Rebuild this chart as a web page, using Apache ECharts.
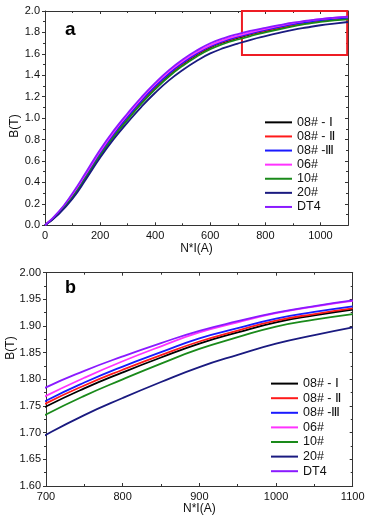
<!DOCTYPE html>
<html>
<head>
<meta charset="utf-8">
<script src="https://cdn.jsdelivr.net/npm/echarts@6/dist/echarts.min.js"></script>
<style>html,body{margin:0;padding:0;background:#fff}#c{width:366px;height:519px}</style>
</head>
<body>
<div id="c"></div>
<script>
// ---- data ----
const current = [0,50,100,150,200,250,300,350,400,450,500,550,600,650,700,750,800,850,900,950,1000,1050,1100];
const seriesNames = ['08# - Ⅰ','08# - Ⅱ','08# -Ⅲ','06#','10#','20#','DT4'];
const b08_1 = [0,0.115,0.27,0.46,0.66,0.84,1.00,1.15,1.285,1.405,1.505,1.59,1.66,1.71,1.749,1.783,1.813,1.841,1.867,1.888,1.907,1.920,1.931];
const b08_2 = [0,0.117,0.275,0.466,0.666,0.846,1.006,1.156,1.291,1.411,1.511,1.596,1.666,1.716,1.755,1.7885,1.818,1.8455,1.871,1.8915,1.910,1.9225,1.933];
const b08_3 = [0,0.119,0.28,0.472,0.673,0.853,1.013,1.163,1.298,1.417,1.517,1.602,1.671,1.721,1.760,1.794,1.824,1.851,1.877,1.896,1.914,1.9265,1.937];
const b06 = [0,0.123,0.29,0.488,0.69,0.872,1.033,1.183,1.317,1.435,1.532,1.615,1.682,1.731,1.769,1.803,1.834,1.862,1.888,1.907,1.924,1.9365,1.947];
const b10 = [0,0.112,0.262,0.45,0.648,0.827,0.986,1.135,1.269,1.389,1.489,1.574,1.644,1.6945,1.734,1.769,1.800,1.8295,1.857,1.879,1.899,1.912,1.9225];
const b20 = [0,0.105,0.248,0.435,0.63,0.805,0.96,1.106,1.237,1.353,1.45,1.534,1.604,1.655,1.696,1.733,1.765,1.795,1.823,1.846,1.867,1.883,1.8975];
const bDT4 = [0,0.127,0.30,0.50,0.705,0.886,1.046,1.195,1.329,1.448,1.547,1.63,1.699,1.747,1.785,1.816,1.843,1.868,1.891,1.909,1.925,1.9375,1.948];
const seriesValues = [b08_1,b08_2,b08_3,b06,b10,b20,bDT4];
const colors = ['#000000','#ff1a1a','#1a1aff','#ff33ff','#1a8a1a','#1a1a80','#8a1aff'];
const zoomBoxStart = [715, 1.59];
const zoomBoxEnd = [1097, 2.0];

// ---- chart ----
const chart = echarts.init(document.getElementById('c'), null, {renderer:'canvas'});
const FONT = 'Liberation Sans, Arial, sans-serif';

function xAx(gi, min, max, interval, pos, show, showMax) {
  return {
    type:'value', gridIndex:gi, min:min, max:max, interval:interval, position:pos,
    axisLine:{show:true, onZero:false, lineStyle:{color:'#333',width:1}},
    axisTick:{show:true, inside:true, length:3, lineStyle:{color:'#333'}},
    minorTick:{show:true, splitNumber:2, length:2, lineStyle:{color:'#333'}},
    axisLabel:{show:show, color:'#111', fontSize:11, fontFamily:FONT, margin:5,
      showMaxLabel:showMax, formatter: v => String(v)},
    splitLine:{show:false},
    name: show ? 'N*I(A)' : '', nameLocation:'middle', nameGap:16,
    nameTextStyle:{color:'#111', fontSize:12, fontFamily:FONT}
  };
}
function yAx(gi, min, max, interval, pos, show, dec) {
  return {
    type:'value', gridIndex:gi, min:min, max:max, interval:interval, position:pos,
    axisLine:{show:true, onZero:false, lineStyle:{color:'#333',width:1}},
    axisTick:{show:true, inside:!show, length:3, lineStyle:{color:'#333'}},
    minorTick:{show:true, splitNumber:2, length:2, lineStyle:{color:'#333'}},
    axisLabel:{show:show, color:'#111', fontSize:11, fontFamily:FONT, margin:5,
      formatter: v => v.toFixed(dec)},
    splitLine:{show:false}
  };
}

const series = [];
seriesNames.forEach((n, i) => {
  const data = current.map((x, k) => [x, seriesValues[i][k]]);
  [0,1].forEach(g => {
    const s = {
      name:n, type:'line', xAxisIndex:g*2, yAxisIndex:g*2, data:data,
      smooth:0.5, symbol:'none', clip:true,
      lineStyle:{color:colors[i], width:1.8}, itemStyle:{color:colors[i]},
      emphasis:{disabled:true}, z: 2 + i
    };
    if (g === 0 && i === seriesNames.length - 1) {
      s.markArea = {
        silent:true,
        itemStyle:{color:'rgba(0,0,0,0)', borderColor:'#ee1c24', borderWidth:2},
        data:[[{coord:zoomBoxStart},{coord:zoomBoxEnd}]]
      };
    }
    series.push(s);
  });
});

const legendBase = {
  orient:'vertical', icon:'rect', itemWidth:27, itemHeight:2, itemGap:0,
  data: seriesNames, selectedMode:false
};
const yNameStyle = {text:'B(T)', font:'12px ' + FONT, fill:'#111', align:'center', verticalAlign:'middle'};

chart.setOption({
  animation:false,
  color: colors,
  grid:[
    {left:45, top:11, right:18, height:214.3, outerBoundsMode:'none', containLabel:false},
    {left:46, top:272.7, right:13.3, height:213.3, outerBoundsMode:'none', containLabel:false}
  ],
  xAxis:[
    xAx(0, 0, 1100, 200, 'bottom', true, false),
    xAx(0, 0, 1100, 200, 'top', false, false),
    xAx(1, 700, 1100, 100, 'bottom', true, true),
    xAx(1, 700, 1100, 100, 'top', false, true)
  ],
  yAxis:[
    yAx(0, 0, 2.0, 0.2, 'left', true, 1),
    yAx(0, 0, 2.0, 0.2, 'right', false, 1),
    yAx(1, 1.6, 2.0, 0.05, 'left', true, 2),
    yAx(1, 1.6, 2.0, 0.05, 'right', false, 2)
  ],
  legend:[
    Object.assign({}, legendBase, {left:260, top:110.3, textStyle:{color:'#111', fontSize:12.5, fontFamily:FONT, lineHeight:14.1}}),
    Object.assign({}, legendBase, {left:266, top:371.3, textStyle:{color:'#111', fontSize:12.5, fontFamily:FONT, lineHeight:14.6}})
  ],
  graphic:[
    {type:'text', left:65, top:20, style:{text:'a', font:'bold 19px ' + FONT, fill:'#000'}},
    {type:'text', left:65, top:279, style:{text:'b', font:'bold 18px ' + FONT, fill:'#000'}},
    {type:'text', x:15, y:126, rotation:Math.PI/2, style:yNameStyle},
    {type:'text', x:11, y:348, rotation:Math.PI/2, style:yNameStyle}
  ],
  series: series
});
</script>
</body>
</html>
